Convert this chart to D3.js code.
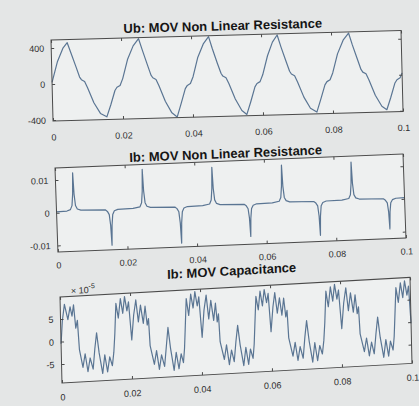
<!DOCTYPE html>
<html>
<head>
<meta charset="utf-8">
<script src="https://cdn.jsdelivr.net/npm/d3@7"></script>
<style>
  html, body { margin: 0; padding: 0; background: #e4e6e6; }
  svg { display: block; }
  text { font-family: "Liberation Sans", Arial, Helvetica, sans-serif; }
</style>
</head>
<body>
<svg id="fig" width="419" height="406"></svg>
<script>
// ---- shared time axis ----
const xTicks = [0, 0.02, 0.04, 0.06, 0.08, 0.1];
const xTickLabels = ["0", "0.02", "0.04", "0.06", "0.08", "0.1"];

// ---- titles ----
const titles = [
  "Ub: MOV Non Linear Resistance",
  "Ib: MOV Non Linear Resistance",
  "Ib: MOV Capacitance"
];

// ---- Ub across the MOV non-linear resistance [s, V] ----
const ubTicks = [-400, 0, 400];
const ubTickLabels = ["-400", "0", "400"];
const ubVoltage = [
  [0.0000, 20], [0.0017, 250], [0.0034, 400], [0.0046, 455],
  [0.0056, 340], [0.0069, 190], [0.0079, 70], [0.0084, 40], [0.0093, 20], [0.0101, -50], [0.0118, -220], [0.0136, -340], [0.0154, -380],
  [0.0166, -250], [0.0179, -90], [0.0185, -55], [0.0194, -35], [0.0202, 40], [0.0217, 250], [0.0234, 400], [0.0250, 478],
  [0.0260, 350], [0.0273, 190], [0.0283, 70], [0.0288, 40], [0.0297, 20], [0.0305, -50], [0.0322, -225], [0.0340, -355], [0.0355, -402],
  [0.0367, -255], [0.0380, -90], [0.0386, -55], [0.0395, -35], [0.0403, 40], [0.0418, 255], [0.0435, 405], [0.0450, 480],
  [0.0460, 345], [0.0473, 185], [0.0483, 70], [0.0488, 38], [0.0497, 18], [0.0505, -50], [0.0522, -220], [0.0540, -350], [0.0554, -395],
  [0.0566, -255], [0.0579, -92], [0.0585, -55], [0.0594, -35], [0.0602, 40], [0.0617, 250], [0.0632, 400], [0.0646, 478],
  [0.0656, 345], [0.0669, 190], [0.0679, 72], [0.0684, 40], [0.0693, 20], [0.0701, -50], [0.0718, -220], [0.0736, -345], [0.0754, -390],
  [0.0766, -250], [0.0779, -90], [0.0785, -55], [0.0794, -35], [0.0802, 40], [0.0817, 250], [0.0834, 400], [0.0850, 478],
  [0.0860, 345], [0.0873, 190], [0.0883, 70], [0.0888, 40], [0.0897, 20], [0.0905, -50], [0.0922, -220], [0.0940, -345], [0.0954, -385],
  [0.0966, -250], [0.0979, -90], [0.0985, -55], [0.0994, -35], [0.1000, 20]
];

// ---- Ib through the non-linear resistance [s, A] ----
const ibResTicks = [-0.01, 0, 0.01];
const ibResTickLabels = ["-0.01", "0", "0.01"];
const ibResistive = [
  [0.0000, 0.0003], [0.0030, 0.0004], [0.0040, 0.0008], [0.0045, 0.0020], [0.0048, 0.0055], [0.0050, 0.0120], [0.0052, 0.0055], [0.0055, 0.0020], [0.0060, 0.0009], [0.0070, 0.0005],
  [0.0140, 0.0003], [0.0146, -0.0002], [0.0151, -0.0012], [0.0154, -0.0045], [0.0156, -0.0106], [0.0158, -0.0045], [0.0161, -0.0012], [0.0166, -0.0001], [0.0176, 0.0003],
  [0.0220, 0.0004], [0.0240, 0.0008], [0.0245, 0.0020], [0.0248, 0.0056], [0.0250, 0.0122], [0.0252, 0.0056], [0.0255, 0.0020], [0.0260, 0.0009], [0.0270, 0.0005],
  [0.0340, 0.0003], [0.0346, -0.0002], [0.0351, -0.0012], [0.0354, -0.0046], [0.0356, -0.0108], [0.0358, -0.0046], [0.0361, -0.0012], [0.0366, -0.0001], [0.0376, 0.0003],
  [0.0420, 0.0004], [0.0440, 0.0008], [0.0445, 0.0020], [0.0448, 0.0055], [0.0450, 0.0120], [0.0452, 0.0055], [0.0455, 0.0020], [0.0460, 0.0009], [0.0470, 0.0005],
  [0.0539, 0.0003], [0.0545, -0.0002], [0.0550, -0.0011], [0.0553, -0.0040], [0.0555, -0.0096], [0.0557, -0.0040], [0.0560, -0.0011], [0.0565, -0.0001], [0.0575, 0.0003],
  [0.0620, 0.0004], [0.0640, 0.0008], [0.0645, 0.0019], [0.0648, 0.0054], [0.0650, 0.0118], [0.0652, 0.0054], [0.0655, 0.0019], [0.0660, 0.0009], [0.0670, 0.0005],
  [0.0739, 0.0003], [0.0745, -0.0002], [0.0750, -0.0011], [0.0753, -0.0042], [0.0755, -0.0101], [0.0757, -0.0042], [0.0760, -0.0011], [0.0765, -0.0001], [0.0775, 0.0003],
  [0.0820, 0.0004], [0.0840, 0.0008], [0.0845, 0.0019], [0.0848, 0.0054], [0.0850, 0.0119], [0.0852, 0.0054], [0.0855, 0.0019], [0.0860, 0.0009], [0.0870, 0.0005],
  [0.0939, 0.0003], [0.0945, -0.0002], [0.0950, -0.0010], [0.0953, -0.0038], [0.0955, -0.0090], [0.0957, -0.0038], [0.0960, -0.0010], [0.0965, -0.0001], [0.0975, 0.0003],
  [0.1000, 0.0004]
];

// ---- Ib through the MOV capacitance [s, A x 1e-5] ----
const ibCapTicks = [-5, 0, 5];
const ibCapTickLabels = ["-5", "0", "5"];
const ibCapacitive = [
  [0.0000, -0.5], [0.0005, 4.5], [0.0012, 8.2], [0.0021, 4.8], [0.0028, 7.6], [0.0033, 5.5], [0.0038, 8.0], [0.0043, 2.8], [0.0048, 4.5], [0.0052, -2.0],
  [0.0061, -6.0], [0.0068, -3.0], [0.0075, -7.0], [0.0082, -4.0], [0.0090, -6.5], [0.0096, -2.0], [0.0102, 1.5], [0.0108, -3.0], [0.0117, -7.6], [0.0124, -3.5], [0.0131, -7.3], [0.0138, -4.0], [0.0145, -6.0], [0.0150, -3.0], [0.0154, 1.0],
  [0.0159, 7.8], [0.0165, 4.5], [0.0172, 8.8], [0.0178, 5.5], [0.0184, 9.2], [0.0190, 6.0], [0.0195, 8.0], [0.0202, -0.5], [0.0209, 5.0], [0.0216, 8.3], [0.0222, 3.4], [0.0229, 7.1], [0.0236, 3.0], [0.0242, 6.8], [0.0247, 2.6], [0.0251, 4.0], [0.0254, -2.0],
  [0.0265, -6.2], [0.0272, -3.2], [0.0279, -7.4], [0.0286, -4.2], [0.0294, -6.8], [0.0300, -2.5], [0.0306, 1.8], [0.0312, -2.8], [0.0321, -7.8], [0.0328, -3.8], [0.0335, -7.5], [0.0342, -4.2], [0.0348, -6.2], [0.0352, -3.0], [0.0355, 1.0],
  [0.0360, 8.0], [0.0366, 4.2], [0.0373, 8.9], [0.0379, 5.8], [0.0385, 9.4], [0.0391, 6.2], [0.0396, 8.2], [0.0403, -0.8], [0.0410, 5.2], [0.0417, 8.5], [0.0423, 3.2], [0.0430, 7.3], [0.0437, 2.8], [0.0443, 6.6], [0.0447, 2.4], [0.0451, 4.2], [0.0454, -2.0],
  [0.0465, -6.0], [0.0472, -2.8], [0.0479, -7.2], [0.0486, -4.0], [0.0493, -6.6], [0.0499, -2.2], [0.0505, 1.4], [0.0511, -3.0], [0.0520, -7.6], [0.0527, -3.6], [0.0534, -7.4], [0.0540, -4.0], [0.0547, -6.1], [0.0551, -3.0], [0.0554, 1.0],
  [0.0559, 7.6], [0.0565, 4.6], [0.0571, 8.7], [0.0577, 5.4], [0.0583, 9.0], [0.0589, 6.1], [0.0594, 8.1], [0.0600, -0.4], [0.0607, 5.1], [0.0613, 8.2], [0.0619, 3.6], [0.0626, 7.0], [0.0632, 3.1], [0.0638, 6.9], [0.0643, 2.7], [0.0647, 4.1], [0.0650, -2.0],
  [0.0661, -6.1], [0.0668, -3.1], [0.0675, -7.1], [0.0682, -4.1], [0.0690, -6.7], [0.0696, -2.1], [0.0702, 1.6], [0.0708, -2.9], [0.0717, -7.7], [0.0724, -3.4], [0.0731, -7.4], [0.0738, -4.1], [0.0745, -6.0], [0.0750, -3.0], [0.0754, 1.0],
  [0.0759, 7.9], [0.0765, 4.4], [0.0772, 8.8], [0.0778, 5.6], [0.0784, 9.3], [0.0790, 6.0], [0.0795, 8.0], [0.0802, -0.6], [0.0809, 5.0], [0.0816, 8.4], [0.0822, 3.3], [0.0829, 7.2], [0.0836, 2.9], [0.0842, 6.7], [0.0847, 2.5], [0.0851, 4.0], [0.0854, -2.0],
  [0.0865, -6.0], [0.0872, -3.0], [0.0879, -7.0], [0.0886, -4.0], [0.0893, -6.6], [0.0899, -2.3], [0.0905, 1.5], [0.0911, -3.0], [0.0920, -7.5], [0.0927, -3.6], [0.0934, -7.3], [0.0940, -4.0], [0.0947, -6.0], [0.0951, -3.0], [0.0954, 1.0],
  [0.0959, 7.8], [0.0965, 4.5], [0.0972, 8.8], [0.0978, 5.5], [0.0984, 9.2], [0.0990, 6.0], [0.0995, 8.0], [0.1000, -0.3]
];

// ---- layout: each axes box is placed with a slight shear ----
const panels = [
  { title: titles[0], data: ubVoltage, yDomain: [-410, 490], yTicks: ubTicks, yLabels: ubTickLabels,
    origin: [51, 40], w: 350, h: 81, skewY: -0.027, skewX: 0.025, xPad: 13, titleY: -5 },
  { title: titles[1], data: ibResistive, yDomain: [-0.012, 0.0137], yTicks: ibResTicks, yLabels: ibResTickLabels,
    origin: [55, 168], w: 348, h: 84, skewY: -0.04, skewX: 0.035, xPad: 10, titleY: -3 },
  { title: titles[2], data: ibCapacitive, yDomain: [-9.2, 9.9], yTicks: ibCapTicks, yLabels: ibCapTickLabels,
    origin: [60, 297], w: 350, h: 86, skewY: -0.056, skewX: 0.023, xPad: 11, titleY: -12,
    exponent: "-5" }
];

const svg = d3.select("#fig");

panels.forEach(p => {
  const g = svg.append("g")
    .attr("transform", `matrix(1,${p.skewY},${p.skewX},1,${p.origin[0]},${p.origin[1]})`);

  const x = d3.scaleLinear().domain([0, 0.1]).range([0, p.w]);
  const y = d3.scaleLinear().domain(p.yDomain).range([p.h, 0]);

  // axes background
  g.append("rect")
    .attr("width", p.w).attr("height", p.h)
    .attr("fill", "#eef0f0");

  // signal trace
  g.append("path")
    .datum(p.data)
    .attr("fill", "none")
    .attr("stroke", "#5a7593")
    .attr("stroke-width", 1.2)
    .attr("stroke-linejoin", "round")
    .attr("d", d3.line().x(d => x(d[0])).y(d => y(d[1])));

  // frame
  g.append("rect")
    .attr("width", p.w).attr("height", p.h)
    .attr("fill", "none")
    .attr("stroke", "#4a4a4a")
    .attr("stroke-width", 1);

  // bottom axis with labels, inward ticks
  const bx = g.append("g").attr("transform", `translate(0,${p.h})`)
    .call(d3.axisBottom(x).tickValues(xTicks).tickSize(-3).tickPadding(p.xPad)
      .tickFormat((d, i) => xTickLabels[i]));
  // left axis with labels
  const ly = g.append("g")
    .call(d3.axisLeft(y).tickValues(p.yTicks).tickSize(-3).tickPadding(7)
      .tickFormat((d, i) => p.yLabels[i]));
  // mirrored ticks on top and right
  const tx = g.append("g")
    .call(d3.axisTop(x).tickValues(xTicks).tickSize(-3).tickFormat(""));
  const ry = g.append("g").attr("transform", `translate(${p.w},0)`)
    .call(d3.axisRight(y).tickValues(p.yTicks).tickSize(-3).tickFormat(""));

  [bx, ly, tx, ry].forEach(a => {
    a.select(".domain").remove();
    a.selectAll(".tick line").attr("stroke", "#4a4a4a");
    a.selectAll(".tick text")
      .attr("fill", "#2e2e2e")
      .style("font-size", "9px")
      .style("font-family", "'Liberation Sans', Arial, sans-serif");
  });

  // title
  g.append("text")
    .attr("x", p.w / 2 - 3)
    .attr("y", p.titleY)
    .attr("text-anchor", "middle")
    .attr("fill", "#151515")
    .style("font-size", "13px")
    .style("font-weight", "bold")
    .text(p.title);

  // axis exponent
  if (p.exponent) {
    const ex = g.append("text")
      .attr("x", 11).attr("y", -2.5)
      .attr("fill", "#2e2e2e")
      .style("font-size", "9px");
    ex.append("tspan").text("\u00d7 10");
    ex.append("tspan").attr("dy", -4.5).style("font-size", "7px").text(p.exponent);
  }
});
</script>
</body>
</html>
